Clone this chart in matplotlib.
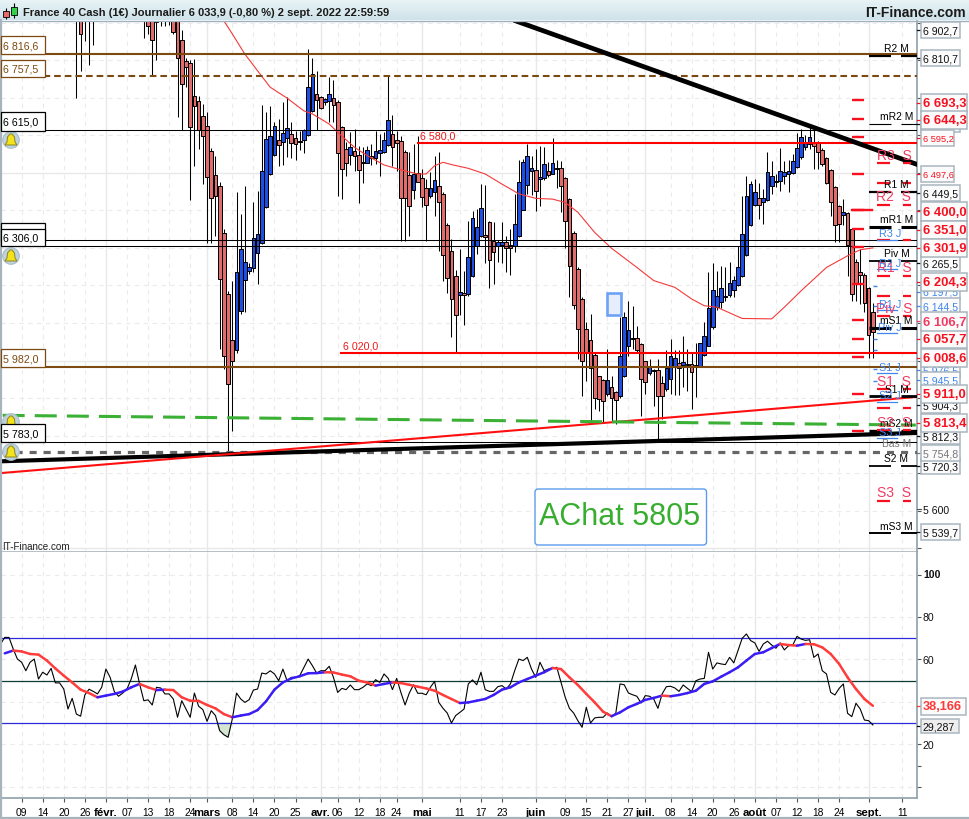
import numpy as np
import matplotlib
matplotlib.use('Agg')
import matplotlib.pyplot as plt
from matplotlib.collections import LineCollection
from matplotlib.patches import Rectangle, Circle, Polygon, FancyBboxPatch

plt.rcParams['font.family'] = ['Liberation Sans', 'DejaVu Sans']

# daily candles (first ones are above the visible range)
opens = [6960, 6960, 6960, 6930, 6950, 6990, 7005, 7020, 7010, 7030, 7015, 7000, 7020, 6995, 6985, 6990,
         6960, 6930, 6925, 6906, 6906, 6935, 6950, 6940, 6920, 6855, 6797, 6792, 6706, 6692,
         6652, 6624, 6557, 6493, 6464, 6341, 6176, 6056, 6028, 6131, 6214, 6238, 6246, 6286, 6313,
         6408, 6498, 6548, 6587, 6581, 6592, 6604, 6592, 6583, 6587, 6601, 6665, 6711, 6703, 6688,
         6691, 6700, 6690, 6621, 6564, 6548, 6557, 6548, 6525, 6527, 6544, 6540, 6553, 6555, 6574,
         6604, 6587, 6584, 6555, 6494, 6453, 6499, 6485, 6460, 6437, 6450, 6464, 6443, 6362, 6291,
         6226, 6174, 6179, 6176, 6224, 6304, 6331, 6335, 6368, 6319, 6304, 6308, 6315, 6308, 6304,
         6332, 6402, 6468, 6504, 6508, 6484, 6485, 6504, 6498, 6510, 6512, 6487, 6429, 6341, 6243,
         6163, 6083, 6054, 6016, 5958, 5949, 5910, 5929, 5915, 5905, 5958, 6038, 6057, 6059, 6043,
         5998, 5968, 5972, 5976, 5940, 5923, 5951, 5982, 5993, 5988, 5990, 5992, 5984, 5985, 6015,
         6040, 6088, 6142, 6155, 6168, 6175, 6189, 6201, 6224, 6281, 6361, 6414, 6432, 6423, 6428,
         6464, 6475, 6478, 6491, 6497, 6500, 6515, 6541, 6568, 6577, 6583, 6581, 6562, 6539, 6507,
         6463, 6412, 6388, 6392, 6350, 6263, 6235, 6229, 6192, 6128]
highs = [7010, 6990, 7000, 7000, 7010, 7040, 7045, 7050, 7040, 7060, 7040, 7035, 7050, 7030, 7020, 7015,
         7000, 6960, 6950, 6940, 6930, 6960, 6970, 6960, 6950, 6880, 6805, 6800, 6803, 6705,
         6683, 6661, 6565, 6546, 6475, 6350, 6185, 6213, 6448, 6390, 6466, 6260, 6421, 6452, 6681,
         6663, 6679, 6636, 6643, 6688, 6701, 6636, 6612, 6612, 6617, 6830, 6805, 6772, 6706, 6700,
         6755, 6748, 6695, 6625, 6581, 6608, 6617, 6572, 6568, 6572, 6576, 6612, 6603, 6608, 6757,
         6654, 6612, 6597, 6560, 6555, 6576, 6599, 6510, 6483, 6501, 6544, 6556, 6448, 6366, 6323,
         6240, 6297, 6239, 6373, 6399, 6404, 6470, 6468, 6372, 6368, 6322, 6368, 6332, 6350, 6444,
         6535, 6537, 6577, 6546, 6563, 6571, 6568, 6528, 6592, 6535, 6532, 6490, 6432, 6345, 6248,
         6168, 6102, 6124, 6020, 5960, 5952, 6032, 5960, 5918, 6115, 6128, 6158, 6144, 6092, 6046,
         6000, 6004, 5978, 6004, 5960, 6028, 6057, 6027, 6028, 6064, 6031, 6022, 6048, 6047, 6102,
         6237, 6259, 6239, 6253, 6248, 6263, 6225, 6306, 6439, 6492, 6479, 6484, 6474, 6456, 6556,
         6532, 6497, 6565, 6532, 6535, 6550, 6606, 6617, 6600, 6626, 6617, 6586, 6565, 6541, 6510,
         6466, 6415, 6430, 6396, 6353, 6270, 6297, 6232, 6195, 6153]
lows = [6700, 6772, 6852, 6788, 6841, 6970, 6985, 6995, 6990, 7000, 6990, 6975, 6990, 6970, 6960, 6965,
        6858, 6870, 6757, 6801, 6890, 6892, 6894, 6870, 6650, 6615, 6730, 6428, 6519, 6563,
        6471, 6312, 6312, 6332, 6031, 5977, 5760, 5813, 6020, 6125, 6130, 6230, 6235, 6204, 6310,
        6405, 6495, 6545, 6519, 6521, 6541, 6539, 6535, 6560, 6553, 6598, 6662, 6614, 6670, 6680,
        6636, 6635, 6439, 6430, 6491, 6520, 6506, 6420, 6473, 6525, 6521, 6523, 6491, 6553, 6572,
        6519, 6506, 6319, 6319, 6333, 6430, 6495, 6408, 6319, 6434, 6386, 6293, 6213, 6180, 6062,
        6022, 6121, 6095, 6172, 6222, 6284, 6328, 6261, 6194, 6204, 6262, 6260, 6237, 6228, 6288,
        6330, 6400, 6444, 6440, 6399, 6411, 6480, 6490, 6496, 6459, 6395, 6301, 6168, 6136, 6004,
        5906, 5946, 5840, 5870, 5866, 5835, 5905, 5840, 5831, 5900, 5955, 6013, 6030, 6020, 5851,
        5910, 5962, 5880, 5791, 5844, 5920, 5911, 5908, 5909, 5929, 5920, 5871, 5902, 5983, 6012,
        6038, 6085, 6135, 6140, 6159, 6170, 6168, 6199, 6222, 6279, 6359, 6412, 6377, 6364, 6425,
        6444, 6461, 6452, 6470, 6450, 6498, 6513, 6538, 6560, 6563, 6510, 6510, 6519, 6470, 6386,
        6317, 6317, 6361, 6225, 6159, 6159, 6150, 6130, 6008, 6008]
closes = [6925, 6871, 6930, 6950, 6990, 7005, 7020, 7010, 7030, 7015, 7000, 7020, 6995, 6985, 6990, 6985,
          6930, 6890, 6855, 6903, 6904, 6950, 6925, 6876, 6805, 6736, 6783, 6621, 6679, 6614,
          6597, 6488, 6432, 6437, 6216, 6011, 5937, 5998, 6235, 6296, 6263, 6250, 6327, 6336, 6504,
          6589, 6597, 6624, 6575, 6605, 6619, 6579, 6576, 6586, 6615, 6728, 6762, 6693, 6673, 6697,
          6709, 6680, 6552, 6509, 6525, 6568, 6544, 6507, 6528, 6562, 6539, 6559, 6560, 6588, 6640,
          6568, 6579, 6432, 6432, 6411, 6498, 6475, 6435, 6413, 6459, 6480, 6422, 6281, 6219, 6163,
          6120, 6183, 6174, 6275, 6381, 6357, 6407, 6330, 6269, 6288, 6315, 6315, 6299, 6299, 6365,
          6475, 6528, 6544, 6512, 6452, 6490, 6523, 6494, 6525, 6512, 6464, 6373, 6251, 6147, 6083,
          6000, 6024, 5980, 5899, 5898, 5893, 5947, 5901, 5896, 6013, 6115, 6080, 6060, 6027, 5951,
          5942, 5984, 5975, 5906, 5905, 5979, 6011, 6006, 5979, 5997, 5987, 5969, 5988, 6047, 6064,
          6139, 6187, 6173, 6194, 6172, 6206, 6214, 6248, 6337, 6437, 6469, 6448, 6414, 6432, 6501,
          6491, 6478, 6505, 6501, 6506, 6531, 6565, 6595, 6581, 6596, 6572, 6556, 6523, 6473, 6421,
          6361, 6363, 6397, 6309, 6176, 6206, 6228, 6153, 6068, 6075]

# moving average on the price panel
ma_bars = [34, 35, 37, 40, 44, 46, 50, 54, 56, 60, 62, 66, 69, 73, 77, 81, 83, 85, 87, 89, 93, 97,
           101, 105, 109, 113, 116, 119, 123, 127, 133, 137, 142, 146, 149, 152, 158, 165, 168, 172,
           178, 183, 186, 189]
ma_prices = [6930, 6905, 6870, 6816, 6757, 6728, 6699, 6665, 6657, 6630, 6608, 6568, 6546, 6521, 6508, 6497,
             6497, 6519, 6528, 6522, 6512, 6497, 6470, 6444, 6432, 6430, 6421, 6395, 6341, 6299, 6248,
             6213, 6195, 6164, 6146, 6142, 6112, 6111, 6142, 6186, 6248, 6279, 6295, 6300]

# RSI, one value per bar, the last value is on the last candle
rsi = [67.3, 70.4, 70.4, 65.0, 60.2, 58.7, 54.7, 58.7, 60.2, 50.8, 54.0, 52.7, 55.8, 49.0, 49.0, 46.1, 36.7,
       41.7, 34.3, 33.3, 43.3, 46.0, 45.0, 43.8, 46.9, 55.5, 51.6, 44.9, 42.7, 44.2, 46.1, 50.8, 57.4,
       48.5, 40.6, 41.0, 38.6, 46.9, 46.6, 43.8, 43.8, 41.4, 32.8, 40.6, 36.7, 32.8, 44.2, 38.0, 36.4,
       30.9, 35.9, 33.6, 26.5, 24.6, 23.4, 32.0, 44.2, 41.4, 39.8, 41.1, 45.6, 46.1, 53.6, 53.2, 54.7,
       53.2, 50.0, 55.5, 50.0, 51.6, 51.6, 52.4, 56.3, 60.2, 57.1, 53.6, 54.7, 54.7, 56.8, 51.6, 44.5,
       46.4, 45.8, 48.0, 45.8, 45.8, 46.9, 48.5, 47.7, 50.5, 49.2, 53.2, 51.1, 45.8, 51.1, 44.5, 38.6,
       44.2, 48.1, 44.1, 44.1, 43.4, 46.9, 49.7, 39.8, 37.0, 34.8, 30.1, 33.6, 35.1, 36.7, 48.5, 50.4,
       48.1, 54.0, 45.8,
       45.0, 45.0, 47.2, 47.7, 46.1, 48.5, 54.7, 60.2, 59.5, 61.0, 55.5, 51.6, 58.7, 54.7, 55.5, 56.0,
       56.3, 49.2, 42.2, 37.0, 34.8, 31.2, 28.1, 37.5, 30.1, 32.5, 32.8, 32.8, 34.8, 33.1, 34.7, 48.5,
       48.1, 44.2, 43.4, 42.7, 39.5, 43.0, 42.7, 41.4, 37.0, 43.8, 47.2, 47.4, 46.6, 45.0, 48.0, 46.4,
       44.9, 50.0, 50.8, 51.1, 63.4, 55.5, 58.4, 57.9, 57.6, 61.0, 58.4, 64.2, 70.0, 72.0, 68.9, 67.8,
       63.8, 67.3, 68.6, 66.8, 65.3, 67.8, 64.5, 66.5, 66.8, 70.9, 69.6, 69.0, 69.3, 61.0, 62.6, 54.7,
       53.2, 44.5, 43.3, 46.4, 48.5, 34.7, 33.1, 39.4, 36.7, 31.5, 31.2, 29.2]

# smoothed RSI, one value every second bar, ending on the last candle
rsi_ma = [62.9, 64.2, 63.8, 62.6, 62.3, 59.5, 55.8, 52.4, 49.2, 45.8, 44.2, 42.2, 43.0, 43.8, 44.9, 46.9, 48.5,
          46.9, 45.6, 45.8, 45.6, 42.2, 40.6, 40.5, 38.6, 37.0, 34.3, 32.8, 33.6, 34.3, 36.2, 40.3, 45.8,
          49.2, 51.1, 52.1, 53.5, 53.6, 54.0, 53.9, 52.9, 52.1, 50.0, 49.2, 47.7, 48.5, 49.2, 48.9, 48.1,
          47.2, 46.4, 45.3, 43.3, 41.4, 39.5, 39.8, 40.6, 41.4, 43.3, 45.8, 46.9, 49.2, 50.8, 52.4, 54.0,
          56.0, 55.5, 51.6, 48.0, 43.8, 39.8, 35.4, 33.3, 35.1, 37.5, 39.1, 41.0, 41.9, 43.0, 42.7, 43.3,
          44.2, 45.3, 48.5, 49.7, 51.9, 54.0, 56.3, 59.5, 62.6, 63.4, 65.4, 67.3, 66.8, 66.5, 67.3, 67.2,
          65.7, 62.6, 57.9, 51.6, 46.1, 41.4, 38.2]

# date axis
tick_bars = [-13, -8, -3, 2, 7, 12, 17, 22, 27, 31, 37, 42, 47, 52, 58, 62, 67, 72, 76, 82, 91, 96, 101,
             109, 116, 121, 126, 131, 135, 141, 146, 151, 156, 161, 166, 171, 176, 181, 188, 196]
tick_labels = ['09', '14', '20', '26', 'févr.', '07', '13', '18', '24', 'mars', '08', '14', '20', '25',
               'avr.', '06', '12', '18', '24', 'mai', '11', '17', '23', 'juin', '09', '15', '21', '27',
               'juil.', '08', '14', '20', '26', 'août', '07', '12', '18', '24', 'sept.', '11']
month_labels = ['févr.', 'mars', 'avr.', 'mai', 'juin', 'juil.', 'août', 'sept.']

# monthly pivots (black), weekly (red), daily (blue)
monthly_names = ['R2 M', 'mR2 M', 'R1 M', 'mR1 M', 'Piv M', 'mS1 M', 'S1 M', 'mS2 M', 'S2 M', 'mS3 M']
monthly_levels = [6810.7, 6630.0, 6449.5, 6357.0, 6265.5, 6086.0, 5904.3, 5812.3, 5720.3, 5539.7]
monthly_widths = [1.6, 0.8, 1.6, 2.2, 1.3, 2.2, 2.0, 2.4, 1.3, 1.4]
weekly_names = ['R3  S', '', 'R2  S', '', 'R1  S', '', 'Piv  S', 'S1  S', '', 'S2  S', 'S3  S']
weekly_levels = [6526.2, 6472.0, 6415.0, 6322.0, 6226.0, 6171.0, 6118.6, 5924.0, 5873.0, 5815.0, 5627.0]
daily_names = ['R3 J', 'R2 J', 'R1 J', 'Piv J', 'S1 J', 'S2 J', 'S3 J']
daily_levels = [6322.0, 6244.0, 6134.6, 6073.0, 5967.0, 5890.0, 5793.5]
daily_ticks = [6197.5, 6144.5, 6057.0, 6027.0, 5976.5, 5945.5]
red_ticks = [6693.3, 6644.3, 6595.2, 6497.6, 6400.0, 6351.0, 6301.9, 6204.3, 6106.7, 6057.7, 6008.6, 5911.0, 5813.4]

BLUE = '#1D4FE4'
SALMON = '#E06C6C'
BROWN = '#7C4A10'
RED = '#F8101F'
PINK = '#F23A62'
JBLUE = '#3F86EE'
GRID = '#EBEBEB'

fig = plt.figure(figsize=(9.7, 8.2), dpi=100, facecolor='white')


def panel(top, bottom):
    # panel edges are given in pixels of the 970x820 picture
    return fig.add_axes([0.001, 1 - bottom / 820, (916.7 - 1) / 970, (bottom - top) / 820])


ax = panel(22, 553)
ax2 = panel(553, 799)
xlim = (-17.9, 199.4)
for a in (ax, ax2):
    a.set_xlim(*xlim)
    a.set_axisbelow(True)
    for side in ('top', 'left'):
        a.spines[side].set_visible(False)
    for side in ('right', 'bottom'):
        a.spines[side].set_color('#8FA0AC')
        a.spines[side].set_linewidth(1.2)
    a.yaxis.tick_right()
    a.tick_params(axis='y', length=3, width=0.8, color='#555555', labelright=False)
ax.set_ylim(5489.9, 6904.5)
ax2.set_ylim(-5.2, 110.6)
ax.spines['bottom'].set_color('#A8B4BC')
ax.set_xticks([])

# grid
month_bars = [b for b, l in zip(tick_bars, tick_labels) if l in month_labels]
other_bars = [b for b, l in zip(tick_bars, tick_labels) if l not in month_labels]
for a in (ax, ax2):
    a.vlines(other_bars, *a.get_ylim(), color=GRID, lw=0.8, ls=(0, (4, 4)), zorder=0)
    a.vlines(month_bars, *a.get_ylim(), color='#E8E8E8', lw=1.0, zorder=0)
hundreds = np.arange(5500, 6901, 100)
ax.hlines([h for h in hundreds if h % 500], *xlim, color=GRID, lw=0.8, ls=(0, (4, 4)), zorder=0)
ax.hlines([5500, 6000, 6500], *xlim, color='#E8E8E8', lw=1.0, zorder=0)
ax.set_yticks(hundreds)
ax2.hlines([0, 20, 40, 60, 80, 100], *xlim, color=GRID, lw=0.8, ls=(0, (4, 4)), zorder=0)
ax2.set_yticks([0, 10, 20, 60, 80, 100])

# candles
bars = np.arange(len(closes))
opens_a = np.array(opens, float)
closes_a = np.array(closes, float)
ax.vlines(bars, lows, highs, color='black', lw=0.75, zorder=2)
colors = [BLUE if c >= o else SALMON for o, c in zip(opens_a, closes_a)]
ax.bar(bars, np.abs(closes_a - opens_a), bottom=np.minimum(opens_a, closes_a), width=0.88,
       color=colors, edgecolor='black', linewidth=0.72, zorder=3)

ax.plot(ma_bars, ma_prices, color='#F43A3A', lw=0.8, zorder=4)

# horizontal levels
ax.axhline(6816.6, color=BROWN, lw=1.5, zorder=5)
ax.axhline(6757.5, color=BROWN, lw=1.5, ls=(0, (3.2, 1.9)), zorder=5)
ax.axhline(5982.0, color=BROWN, lw=1.5, zorder=5)
for level in (6615.0, 6320.0, 6306.0, 5783.0):
    ax.axhline(level, color='black', lw=0.75, zorder=5)
ax.plot([81.0, xlim[1]], [6580.0, 6580.0], color='#FF0000', lw=1.5, zorder=5)
ax.plot([62.8, xlim[1]], [6020.0, 6020.0], color='#FF0000', lw=1.5, zorder=5)
ax.text(81.5, 6586, '6 580,0', color='#F01818', fontsize=7.7, va='bottom', zorder=6)
ax.text(63.3, 6026, '6 020,0', color='#F01818', fontsize=7.7, va='bottom', zorder=6)

# trend lines
ax.plot([104.3, 199.2], [6904.5, 6523.6], color='black', lw=3.4, zorder=6)
ax.plot([-18.1, 199.2], [5731.5, 5807.0], color='black', lw=3.0, zorder=6)
ax.plot([-18.1, 199.2], [5700.0, 5902.8], color='#FF0F0F', lw=1.5, zorder=6)
ax.plot([-17.5, 199.2], [5854.0, 5828.0], color='#3AB034', lw=2.2, ls=(0, (7.2, 3.3)), zorder=6)
ax.axhline(5757.0, color='#666666', lw=2.3, ls=(0, (2.2, 2.2)), zorder=5)

# pivot levels on the right
for name, level, width in zip(monthly_names, monthly_levels, monthly_widths):
    ax.plot([188.0, 193.3], [level, level], color='black', lw=width, solid_capstyle='butt', zorder=7)
    ax.plot([195.6, 199.4], [level, level], color='black', lw=width, solid_capstyle='butt', zorder=7)
    ax.annotate(name, (194.6, level), xytext=(0, 2), textcoords='offset points', ha='center', va='bottom',
                fontsize=7.4, color='black', zorder=8)
ax.text(194.6, 5768, 'Bas M', ha='center', va='bottom', fontsize=7.4, color='#777777', zorder=8)
for name, level in zip(weekly_names, weekly_levels):
    ax.plot([190.0, 193.0], [level, level], color=RED, lw=1.6, solid_capstyle='butt', zorder=7)
    ax.plot([196.1, 198.0], [level, level], color=RED, lw=1.6, solid_capstyle='butt', zorder=7)
    if name:
        ax.annotate(name, (194.0, level), xytext=(0, 1), textcoords='offset points', ha='center', va='bottom',
                    fontsize=10, color=PINK, zorder=8)
for name, level in zip(daily_names, daily_levels):
    ax.plot([190.0, 194.7], [level, level], color=JBLUE, lw=0.9, zorder=7)
    ax.annotate(name, (193.0, level), xytext=(0, 1), textcoords='offset points', ha='center', va='bottom',
                fontsize=7.8, color=JBLUE, zorder=8)
ax.hlines(daily_ticks, 189.0, 190.0, color=JBLUE, lw=1.0, zorder=7)
ax.hlines(red_ticks, 184.0, 187.0, color=RED, lw=1.7, zorder=7)
ax.plot([184.0, 188.8], [6400.0, 6400.0], color=RED, lw=1.7, zorder=7)

# RSI panel
rsi_x = np.arange(len(closes) - len(rsi), len(closes))
rsi_a = np.array(rsi)
ax2.axhline(70, color='#2A2ADB', lw=0.9, zorder=2)
ax2.axhline(50, color='#0E3B33', lw=0.9, zorder=2)
ax2.axhline(30, color='#2A2ADB', lw=0.9, zorder=2)
ax2.fill_between(rsi_x, rsi_a, 30, where=rsi_a < 30, interpolate=True, color='#D4E6D2', zorder=1)
ax2.plot(rsi_x, rsi_a, color='black', lw=0.8, zorder=3)
ma_x = np.arange(len(closes) - 1 - 2 * (len(rsi_ma) - 1), len(closes), 2)
ma_a = np.array(rsi_ma)
points = np.column_stack([ma_x, ma_a])
segments = np.stack([points[:-1], points[1:]], axis=1)
seg_colors = ['#3A1CF4' if d >= 0 else '#FF3C3C' for d in np.diff(ma_a)]
ax2.add_collection(LineCollection(segments, colors=seg_colors, linewidths=1.8, capstyle='round', zorder=4))

ax2.set_xticks(tick_bars, tick_labels, fontsize=7.4)
ax2.tick_params(axis='x', length=3, width=0.8, color='#555555', pad=3.5)
for lbl in ax2.get_xticklabels():
    if lbl.get_text() in month_labels:
        lbl.set_fontweight('bold')
        lbl.set_fontsize(8.2)

# everything that is placed in picture pixels goes on a full size layer
top = fig.add_axes([0, 0, 1, 1], zorder=10)
top.set_xlim(0, 970)
top.set_ylim(820, 0)
top.axis('off')
top.patch.set_alpha(0)

# title bar
gradient = np.linspace(0, 1, 21).reshape(-1, 1)
top.imshow(gradient, extent=(0, 970, 21, 0), aspect='auto', cmap=matplotlib.colors.LinearSegmentedColormap.from_list(
    'bar', ['#E9F4F6', '#CFE3EA']), zorder=1)
top.set_xlim(0, 970)
top.set_ylim(820, 0)
top.plot([0, 970], [21.5, 21.5], color='#9DB2BE', lw=1.0, zorder=2)
top.vlines(6, 9, 20, color='black', lw=0.8, zorder=2)
top.vlines(14, 4, 19, color='black', lw=0.8, zorder=2)
top.add_patch(Rectangle((3.5, 11.5), 5.5, 6.5, fc='#E86A6A', ec='black', lw=0.6, zorder=3))
top.add_patch(Rectangle((11.5, 7.5), 5.5, 8.5, fc='#35D04A', ec='black', lw=0.6, zorder=3))
top.text(23, 13, 'France 40 Cash (1€) Journalier 6 033,9 (-0,80 %) 2 sept. 2022 22:59:59', fontsize=8.0,
         fontweight='bold', color='#1A1A1A', va='center', ha='left', zorder=3)
top.text(966, 13, 'IT-Finance.com', fontsize=10, fontweight='bold', color='#1A1A1A', va='center', ha='right', zorder=3)

# frame
top.plot([0.8, 0.8], [21, 820], color='#A8B4BC', lw=1.6, zorder=2)
top.plot([0, 970], [819.3, 819.3], color='#A8B4BC', lw=1.6, zorder=2)


def bell(cx, cy, r=8.3):
    top.add_patch(Circle((cx, cy), r, fc='#BFD2DD', ec='#A9BECB', lw=0.8, zorder=3))
    shape = [(cx - 6, cy + 5), (cx - 4, cy + 2), (cx - 3.5, cy - 3), (cx - 1, cy - 6), (cx + 1, cy - 6),
             (cx + 3.5, cy - 3), (cx + 4, cy + 2), (cx + 6, cy + 5)]
    top.add_patch(Polygon(shape, closed=True, fc='#F4E21C', ec='#8A8420', lw=0.7, zorder=4))


for by in (141, 257, 423, 453):
    bell(11, by)

# left side level boxes
left_boxes = [(37, 55, '6 816,6', BROWN), (60.5, 77.5, '6 757,5', BROWN), (113, 131.5, '6 615,0', 'black'),
              (224, 242, '', 'black'), (229.5, 247, '6 306,0', 'black'), (350, 368, '5 982,0', BROWN),
              (424.5, 443, '5 783,0', 'black')]
for y0, y1, label, edge in left_boxes:
    top.add_patch(Rectangle((1, y0), 44.5, y1 - y0, fc='white', ec=edge, lw=0.9, zorder=5))
    if label:
        top.text(3, (y0 + y1) / 2 + 0.5, label, fontsize=7.7, color=edge if edge == BROWN else 'black', va='center', zorder=6)

top.text(2, 547, 'IT-Finance.com', fontsize=7.1, color='#222222', va='center', zorder=3)

# order box
top.add_patch(FancyBboxPatch((535, 490), 171.5, 56, boxstyle='round,pad=0,rounding_size=3', fc='white', ec='#5C9CEB', lw=1.0, zorder=5))
top.text(620, 517, 'AChat 5805', fontsize=22, color='#38AE30', ha='center', va='center', zorder=6)
top.add_patch(Rectangle((607.5, 293.5), 13.5, 22.5, fc='#E6EEFC', ec='#6EA2F5', lw=1.9, zorder=5))


def tag(y, text, color, size=7.6, right=960, bold=False, face='#FBFBFB', height=15.5, edge='#A9B6BE'):
    top.plot([917, 922], [y, y], color=color, lw=0.9, zorder=6)
    top.add_patch(Rectangle((921.5, y - height / 2), right - 921.5, height, fc=face, ec=edge, lw=1.1, zorder=6))
    top.text(923, y + 0.3, text, fontsize=size, color=color, fontweight='bold' if bold else 'normal', va='center', zorder=6)


for y, text in [(292.7, '6 197,5'), (307, '6 144,5'), (371, '5 976,5'), (381, '5 945,5')]:
    tag(y, text, JBLUE)
for y, text in [(31, '6 902,7'), (59, '6 810,7'), (125, '6 630,0'), (194, '6 449,5'), (264, '6 265,5'),
                (406, '5 904,3'), (437, '5 812,3'), (467, '5 720,3'), (533, '5 539,7')]:
    tag(y, text, '#111111')
tag(454, '5 754,8', '#777777')
top.plot([917, 921], [510, 510], color='#555555', lw=0.8, zorder=6)
top.text(923, 511, '5 600', fontsize=7.6, color='#111111', va='center', zorder=6)
for y, text in [(139, '6 595,2'), (175, '6 497,6')]:
    tag(y, text, RED, size=6.7, right=954)
for y, text in [(104, '6 693,3'), (121, '6 644,3'), (212.3, '6 400,0'), (231, '6 351,0'), (249, '6 301,9'),
                (283, '6 204,3'), (340, '6 057,7'), (359, '6 008,6'), (395, '5 911,0'), (424, '5 813,4')]:
    tag(y, text, RED, size=9.4, right=967, bold=True, height=18.5)
tag(322.3, '6 106,7', PINK, size=9.4, right=967, bold=True, height=18.5)

# lower panel values
for y, text, weight in [(575.5, '100', 'bold'), (618, '80', 'normal'), (661, '60', 'normal'), (746, '20', 'normal')]:
    top.text(923, y, text, fontsize=7.6, color='#111111', fontweight=weight, va='center', zorder=6)
tag(707, '38,166', '#FF3838', size=9.2, right=966, bold=True, height=17)
tag(727, '29,287', '#111111', right=959.5, face='#EEEEEE', height=14)

fig.savefig('out.png', dpi=100)
